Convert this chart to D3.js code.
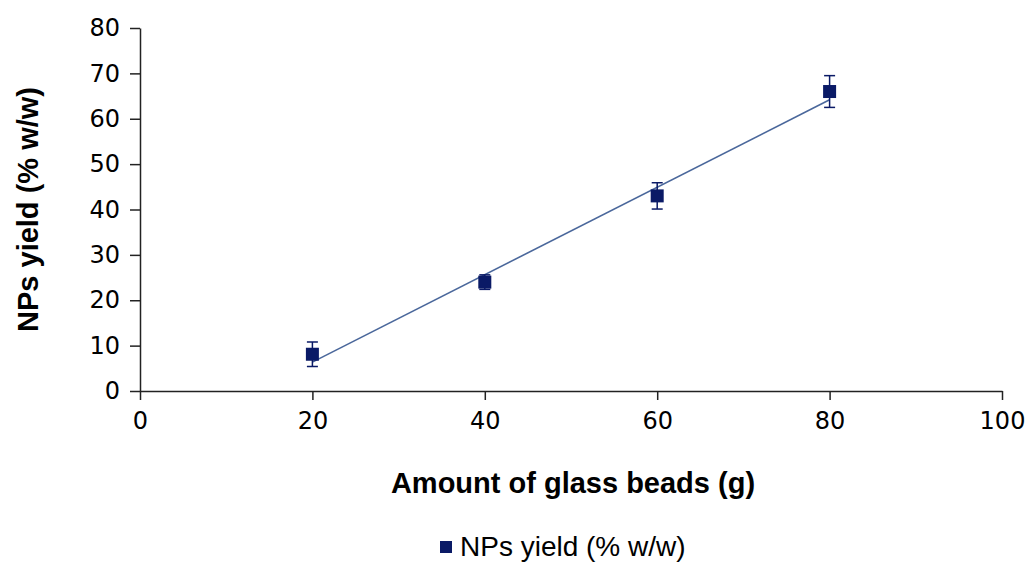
<!DOCTYPE html>
<html>
<head>
<meta charset="utf-8">
<script src="https://cdn.jsdelivr.net/npm/d3@7"></script>
<style>
  body { margin: 0; background: #fff; }
</style>
</head>
<body>
<div id="chart"></div>
<script>
// Data
const beads = [20, 40, 60, 80];          // g
const yieldVals = [8.1, 24.0, 43.0, 66.0];   // % w/w
const yieldErr = [2.7, 1.6, 2.9, 3.5];
const xTicks = [0, 20, 40, 60, 80, 100];
const yTicks = [0, 10, 20, 30, 40, 50, 60, 70, 80];
const seriesName = "NPs yield (% w/w)";

const W = 1030, H = 563;
const margin = { top: 28, right: 28, bottom: 172, left: 140 };
const width = W - margin.left - margin.right;
const height = H - margin.top - margin.bottom;

const navy = "#0a1a66";
const trendColor = "#4a679b";

const svg = d3.select("#chart")
    .append("svg")
    .attr("width", W)
    .attr("height", H);

const g = svg.append("g")
    .attr("transform", `translate(${margin.left}, ${margin.top})`);

// Scales
const xScale = d3.scaleLinear().domain([0, 100]).range([0, width]);
const yScale = d3.scaleLinear().domain([0, 80]).range([height, 0]);

// Axes
const xAxis = g.append("g")
    .attr("transform", `translate(0, ${height})`)
    .call(d3.axisBottom(xScale).tickValues(xTicks).tickSize(9).tickPadding(12).tickSizeOuter(0));

const yAxis = g.append("g")
    .call(d3.axisLeft(yScale).tickValues(yTicks).tickSize(10).tickPadding(10).tickSizeOuter(0));

[xAxis, yAxis].forEach(a => {
    a.select(".domain").attr("stroke", "#222").attr("stroke-width", 1.5);
    a.selectAll(".tick line").attr("stroke", "#222").attr("stroke-width", 1.5);
    a.selectAll(".tick text")
        .style("font-family", "'DejaVu Sans', sans-serif")
        .style("font-size", "24px")
        .attr("fill", "#000");
});

// Linear trendline (least squares fit of the data)
const mx = d3.mean(beads), my = d3.mean(yieldVals);
const slope = d3.sum(beads, (x, i) => (x - mx) * (yieldVals[i] - my)) /
              d3.sum(beads, x => (x - mx) * (x - mx));
const intercept = my - slope * mx;
const xExt = d3.extent(beads);

g.append("line")
    .attr("x1", xScale(xExt[0]))
    .attr("y1", yScale(slope * xExt[0] + intercept))
    .attr("x2", xScale(xExt[1]))
    .attr("y2", yScale(slope * xExt[1] + intercept))
    .attr("stroke", trendColor)
    .attr("stroke-width", 1.6);

// Error bars
const capW = 11;
const err = g.selectAll(".err")
    .data(beads)
    .enter()
    .append("g")
    .attr("class", "err")
    .attr("stroke", navy)
    .attr("stroke-width", 1.5);

err.append("line")
    .attr("x1", d => xScale(d))
    .attr("x2", d => xScale(d))
    .attr("y1", (d, i) => yScale(yieldVals[i] + yieldErr[i]))
    .attr("y2", (d, i) => yScale(yieldVals[i] - yieldErr[i]));

err.append("line")
    .attr("x1", d => xScale(d) - capW / 2)
    .attr("x2", d => xScale(d) + capW / 2)
    .attr("y1", (d, i) => yScale(yieldVals[i] + yieldErr[i]))
    .attr("y2", (d, i) => yScale(yieldVals[i] + yieldErr[i]));

err.append("line")
    .attr("x1", d => xScale(d) - capW / 2)
    .attr("x2", d => xScale(d) + capW / 2)
    .attr("y1", (d, i) => yScale(yieldVals[i] - yieldErr[i]))
    .attr("y2", (d, i) => yScale(yieldVals[i] - yieldErr[i]));

// Square markers
const ms = 13;
g.selectAll(".dot")
    .data(beads)
    .enter()
    .append("rect")
    .attr("class", "dot")
    .attr("x", d => xScale(d) - ms / 2)
    .attr("y", (d, i) => yScale(yieldVals[i]) - ms / 2)
    .attr("width", ms)
    .attr("height", ms)
    .attr("fill", navy);

// Axis titles
g.append("text")
    .attr("x", width / 2 + 2)
    .attr("y", height + 102)
    .attr("text-anchor", "middle")
    .style("font-family", "'Liberation Sans', Arial, sans-serif")
    .style("font-size", "29px")
    .style("font-weight", "bold")
    .text("Amount of glass beads (g)");

g.append("text")
    .attr("transform", "rotate(-90)")
    .attr("x", -height / 2)
    .attr("y", -margin.left + 38)
    .attr("text-anchor", "middle")
    .style("font-family", "'Liberation Sans', Arial, sans-serif")
    .style("font-size", "29px")
    .style("font-weight", "bold")
    .text(seriesName);

// Legend
const legend = svg.append("g")
    .attr("transform", "translate(446, 547)");

legend.append("rect")
    .attr("x", -6)
    .attr("y", -6)
    .attr("width", 12)
    .attr("height", 12)
    .attr("fill", navy);

legend.append("text")
    .attr("x", 14)
    .attr("y", 9)
    .style("font-family", "'Liberation Sans', Arial, sans-serif")
    .style("font-size", "28px")
    .attr("fill", "#000")
    .text(seriesName);
</script>
</body>
</html>
